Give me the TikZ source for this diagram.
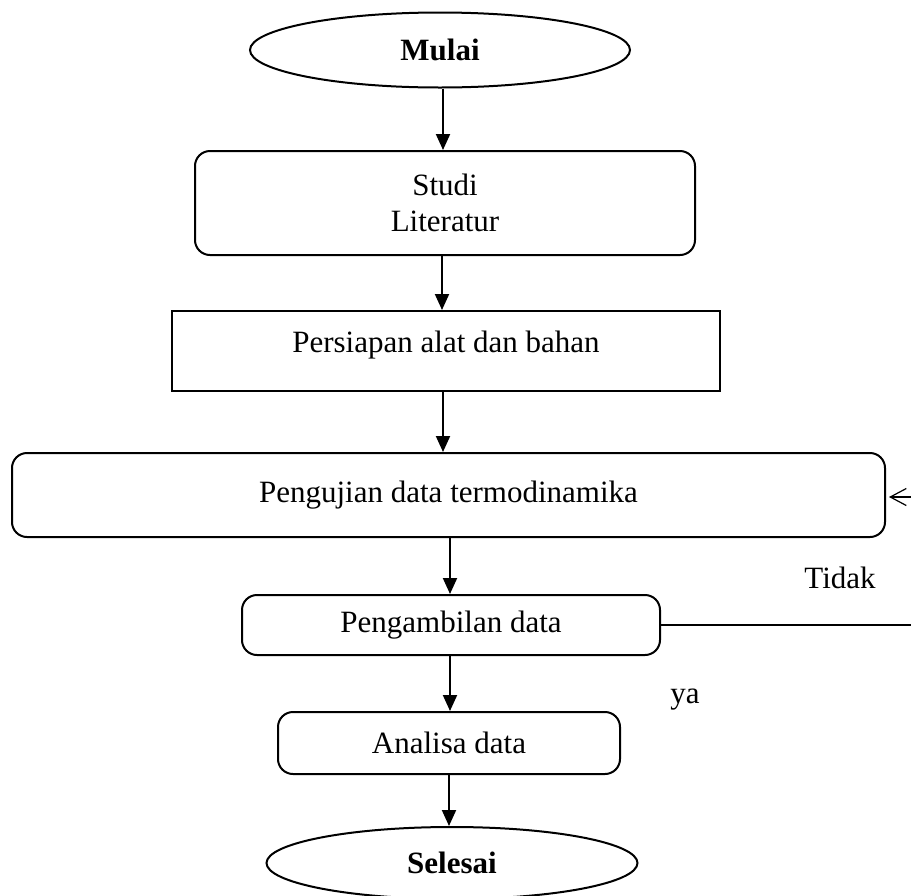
\documentclass[tikz,border=0pt]{standalone}
\usepackage{fontspec}
\setmainfont{Liberation Serif}
\usetikzlibrary{shapes.geometric,arrows.meta}
\begin{document}
\begin{tikzpicture}[x=1pt,y=-1pt,
  font=\fontsize{31}{36}\selectfont,
  box/.style={draw,line width=2pt,inner sep=0pt,align=center},
  rbox/.style={box,rounded corners=15pt},
  oval/.style={draw,ellipse,line width=2pt,inner sep=0pt,font=\fontsize{31}{36}\selectfont\bfseries},
  arr/.style={line width=2pt,-{Triangle[length=16pt,width=14pt]}},
  thin/.style={line width=1.2pt}]
\useasboundingbox (0,0) rectangle (911,895);
\node[oval,minimum width=380,minimum height=75] (mulai) at (440,50) {Mulai};
\node[rbox,minimum width=500,minimum height=104] (studi) at (445,203) {Studi\\Literatur};
\node[box,minimum width=548,minimum height=80,text depth=19pt] (persiapan) at (446,351) {Persiapan alat dan bahan};
\node[rbox,minimum width=873,minimum height=84] (pengujian) at (448.5,495) {Pengujian data termodinamika};
\node[rbox,minimum width=418,minimum height=60] (pengambilan) at (451,625) {Pengambilan data};
\node[rbox,minimum width=342,minimum height=62] (analisa) at (449,743) {Analisa data};
\node[oval,minimum width=371,minimum height=72] (selesai) at (452,863) {Selesai};
\node[anchor=base] (tidak) at (840,588) {Tidak};
\node[anchor=base] (ya) at (685,703) {ya};
\coordinate (r1) at (911,625);
\coordinate (r2) at (911,497);
\draw[arr] ([xshift=3]mulai.south) -- ([xshift=3]mulai.south |- studi.north);
\draw[arr] ([xshift=-3]studi.south) -- ([xshift=-3]studi.south |- persiapan.north);
\draw[arr] ([xshift=-3]persiapan.south) -- ([xshift=-3]persiapan.south |- pengujian.north);
\draw[arr] ([xshift=1.5]pengujian.south) -- ([xshift=1.5]pengujian.south |- pengambilan.north);
\draw[arr] ([xshift=-1]pengambilan.south) -- ([xshift=-1]pengambilan.south |- analisa.north);
\draw[arr] ([xshift=0]analisa.south) -- ([xshift=0]analisa.south |- selesai.north);
\draw[thin] (pengambilan.east) -- (r1);
\draw[thin,-{Straight Barb[length=16pt,width=17pt]}] (r2) -- ([xshift=3]pengujian.east |- r2);
\end{tikzpicture}
\end{document}
